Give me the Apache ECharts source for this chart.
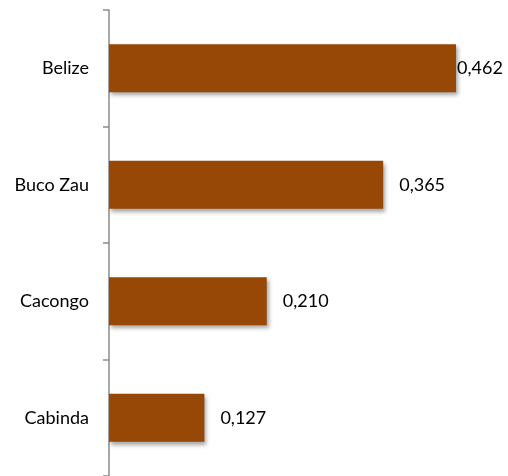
<!DOCTYPE html>
<html>
<head>
<meta charset="utf-8">
<script src="https://cdn.jsdelivr.net/npm/echarts@6/dist/echarts.min.js"></script>
<style>html,body{margin:0;padding:0;background:#fff}#c{width:508px;height:476px}</style>
</head>
<body>
<div id="c"></div>
<script>
const categories = ['Belize', 'Buco Zau', 'Cacongo', 'Cabinda'];
const values = [0.462, 0.365, 0.210, 0.127];
const labelGaps = [1, 16, 16, 16];

const chart = echarts.init(document.getElementById('c'), null, {renderer: 'canvas'});
const FONT = 'Lato';
chart.setOption({
  animation: false,
  grid: {left: 109, right: 23.4, top: 10, bottom: 0, containLabel: false},
  xAxis: {type: 'value', min: 0, max: 0.5, show: false},
  yAxis: {
    type: 'category', data: categories, inverse: true,
    axisLine: {show: true, lineStyle: {color: '#8c8c8c', width: 1.5}},
    axisTick: {show: true, length: 6, lineStyle: {color: '#8c8c8c', width: 1.5}},
    axisLabel: {margin: 20, color: '#000', fontFamily: FONT, fontSize: 18}
  },
  series: [{
    type: 'bar',
    barWidth: 48,
    data: values.map((v, i) => ({
      value: v,
      label: {distance: labelGaps[i]}
    })),
    itemStyle: {
      color: '#974706',
      shadowColor: 'rgba(0,0,0,0.35)', shadowBlur: 4, shadowOffsetX: 2, shadowOffsetY: 3
    },
    label: {
      show: true, position: 'right', color: '#000', fontFamily: FONT, fontSize: 18,
      formatter: p => p.value.toFixed(3).replace('.', ',')
    }
  }]
});
</script>
</body>
</html>
